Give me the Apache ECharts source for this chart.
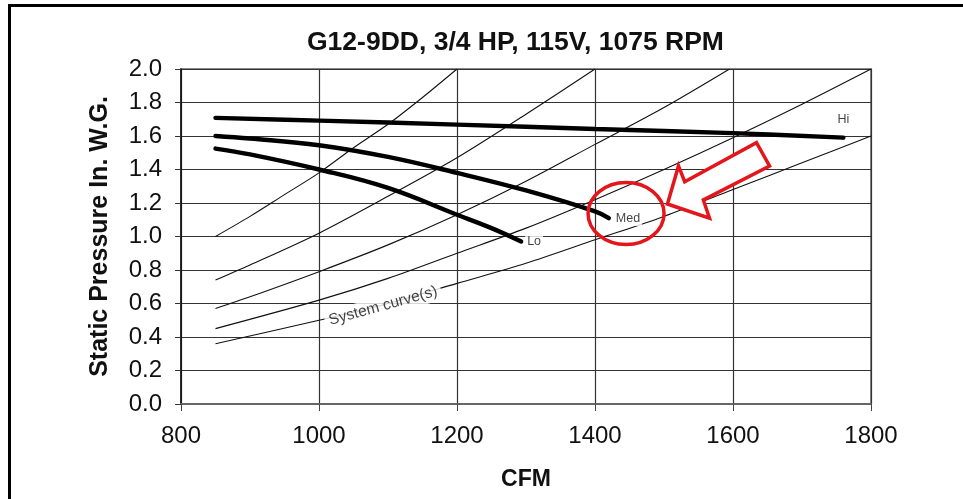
<!DOCTYPE html>
<html>
<head>
<meta charset="utf-8">
<script src="https://cdn.jsdelivr.net/npm/echarts@6/dist/echarts.min.js"></script>
<style>
html,body{margin:0;padding:0;background:#fff;}
#chart{width:963px;height:499px;}
</style>
</head>
<body>
<div id="chart"></div>
<script>
// ---- data ----
var titleText = 'G12-9DD, 3/4 HP, 115V, 1075 RPM';
var xTicks = [800, 1000, 1200, 1400, 1600, 1800];
var yTicks = [0.0, 0.2, 0.4, 0.6, 0.8, 1.0, 1.2, 1.4, 1.6, 1.8, 2.0];

// fan curves [CFM, in. W.G.]
var hiCurve = [[850,1.708],[1000,1.692],[1200,1.668],[1400,1.642],[1600,1.617],[1760,1.59]];
var medCurve = [[850,1.60],[900,1.585],[1000,1.545],[1100,1.475],[1200,1.38],[1300,1.275],[1400,1.15],[1420,1.11]];
var loCurve = [[850,1.525],[900,1.49],[1000,1.40],[1100,1.29],[1200,1.13],[1250,1.05],[1293,0.97]];

// system curves
var sys1 = [[850,1.00],[900,1.12],[950,1.25],[1000,1.38],[1050,1.53],[1100,1.67],[1150,1.83],[1200,2.00]];
var sys2 = [[850,0.74],[900,0.83],[1000,1.02],[1100,1.24],[1200,1.47],[1300,1.73],[1400,2.00]];
var sys3 = [[850,0.57],[900,0.64],[1000,0.79],[1100,0.95],[1200,1.13],[1300,1.33],[1400,1.55],[1500,1.77],[1595,2.00]];
var sys4 = [[850,0.45],[1000,0.62],[1100,0.75],[1200,0.90],[1300,1.05],[1400,1.22],[1500,1.40],[1600,1.59],[1700,1.79],[1800,2.00]];
var sys5 = [[850,0.36],[1000,0.50],[1100,0.60],[1200,0.72],[1300,0.84],[1400,0.98],[1500,1.12],[1600,1.28],[1700,1.44],[1800,1.60]];

var curveLabels = ['Hi', 'Med', 'Lo'];
var sysLabel = 'System curve(s)';
var sysLabelPos = [1093, 0.585];

var FONT = '"Liberation Sans", Arial, sans-serif';

function fanSeries(data, name) {
  return {type: 'line', name: name, data: data, smooth: 0.4, symbol: 'none', z: 5,
    lineStyle: {color: '#000', width: 4.4, cap: 'round'}};
}
function sysSeries(data) {
  return {type: 'line', data: data, smooth: 0.3, symbol: 'none', z: 3,
    lineStyle: {color: '#111', width: 1.1}, silent: true};
}
function endLabel(data, name, pos, dist) {
  var p = data[data.length - 1];
  return {value: p, label: {show: true, formatter: name, position: pos, distance: dist,
    color: '#111', fontSize: 12.5, fontFamily: FONT, backgroundColor: '#fff', padding: [3, 2, 0, 2]}};
}

var chart = echarts.init(document.getElementById('chart'), null, {renderer: 'canvas'});
var option = {
  backgroundColor: '#fff',
  animation: false,
  title: {
    text: titleText, left: 302, top: 24,
    textStyle: {fontFamily: FONT, fontSize: 26.5, fontWeight: 'bold', color: '#111'}
  },
  grid: {left: 181, right: 92, top: 69, bottom: 95, show: true, borderColor: '#888', borderWidth: 2, backgroundColor: 'transparent'},
  xAxis: {
    type: 'value', min: xTicks[0], max: xTicks[xTicks.length - 1], interval: 200,
    name: 'CFM', nameLocation: 'middle', nameGap: 64,
    nameTextStyle: {fontFamily: FONT, fontSize: 23, fontWeight: 'bold', color: '#111'},
    axisLine: {show: true, lineStyle: {color: '#666', width: 2}},
    axisTick: {show: true, length: 7, lineStyle: {color: '#444', width: 1}},
    axisLabel: {fontFamily: FONT, fontSize: 24, color: '#111', margin: 20,
      formatter: function (v) { return String(v); }},
    splitLine: {show: true, lineStyle: {color: '#333', width: 1.2}}
  },
  yAxis: {
    type: 'value', min: yTicks[0], max: yTicks[yTicks.length - 1], interval: 0.2,
    name: 'Static Pressure In. W.G.', nameLocation: 'middle', nameGap: 68,
    nameTextStyle: {fontFamily: FONT, fontSize: 25, fontWeight: 'bold', color: '#111'},
    axisLine: {show: true, lineStyle: {color: '#111', width: 1.5}},
    axisTick: {show: true, length: 6, lineStyle: {color: '#333', width: 1}},
    axisLabel: {fontFamily: FONT, fontSize: 24, color: '#111', margin: 19,
      formatter: function (v) { return v.toFixed(1); }},
    splitLine: {show: true, lineStyle: {color: '#333', width: 1.2}}
  },
  series: [
    sysSeries(sys1), sysSeries(sys2), sysSeries(sys3), sysSeries(sys4), sysSeries(sys5),
    fanSeries(hiCurve, curveLabels[0]),
    fanSeries(medCurve, curveLabels[1]),
    fanSeries(loCurve, curveLabels[2]),
    {
      type: 'scatter', symbolSize: 0, z: 8, silent: true,
      data: [
        endLabel(hiCurve, curveLabels[0], 'top', 12),
        endLabel(medCurve, curveLabels[1], 'right', 5),
        endLabel(loCurve, curveLabels[2], 'right', 4)
      ]
    },
    {
      type: 'scatter', data: [sysLabelPos], symbolSize: 0, z: 8, silent: true,
      label: {show: true, formatter: sysLabel, position: 'inside', rotate: 15.5,
        fontFamily: FONT, fontSize: 15.5, color: '#111', backgroundColor: '#fff', padding: [2, 4]}
    }
  ]
};
chart.setOption(option);

// annotation overlay (red ellipse + hollow arrow), anchored in data space
var ellipseCenter = [1445, 1.137];
var arrowPts = [[1505,1.194],[1521,1.421],[1530,1.327],[1634,1.560],[1653,1.421],[1557,1.218],[1566,1.109]];
var c = chart.convertToPixel({gridIndex: 0}, ellipseCenter);
var pts = arrowPts.map(function (p) { return chart.convertToPixel({gridIndex: 0}, p); });
chart.setOption({
  graphic: [
    {type: 'rect', shape: {x: 9.5, y: 5.5, width: 1200, height: 1000}, style: {fill: 'none', stroke: '#000', lineWidth: 3}, z: 100, silent: true},
    {type: 'ellipse', shape: {cx: c[0], cy: c[1], rx: 38, ry: 31}, style: {fill: 'none', stroke: '#e3161b', lineWidth: 3.5}, z: 100, silent: true},
    {type: 'polygon', shape: {points: pts}, style: {fill: '#fff', stroke: '#e3161b', lineWidth: 3.5, lineJoin: 'miter'}, z: 100, silent: true}
  ]
});
</script>
</body>
</html>
